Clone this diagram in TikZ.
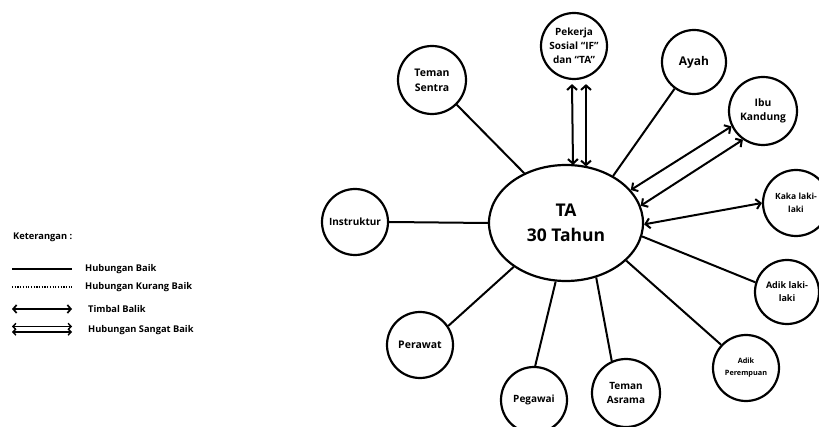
\documentclass[tikz,border=0pt]{standalone}
\usepackage{fontspec}
\setmainfont{Open Sans}
\usetikzlibrary{arrows.meta,calc,shapes.geometric}
\begin{document}
\begin{tikzpicture}[x=1pt,y=-1pt,
  person/.style={circle,draw,line width=2.2pt,minimum size=66pt,inner sep=0pt,align=center,font=\bfseries\fontsize{10}{14}\selectfont},
  link/.style={line width=2pt},
  dbl/.style={line width=2pt,{Straight Barb[length=4.5pt,width=10pt]}-{Straight Barb[length=4.5pt,width=10pt]}},
  legtext/.style={anchor=west,inner sep=0pt,font=\bfseries\fontsize{9.3}{11}\selectfont}]
\useasboundingbox (0,0) rectangle (819,427);
\begin{scope}
\clip (0,0) rectangle (819,427);
\node[ellipse,draw,line width=2.2pt,minimum width=154pt,minimum height=116pt,inner sep=0pt,align=center,font=\bfseries\fontsize{17.5}{25}\selectfont] (ta) at (566,223) {TA\\30 Tahun};
\node[person] (pek) at (574,46) {Pekerja\\Sosial “IF”\\dan “TA”};
\node[person,minimum size=68pt,font=\bfseries\fontsize{10.5}{15}\selectfont] (sentra) at (432,80) {Teman\\Sentra};
\node[person,minimum size=64pt,font=\bfseries\fontsize{12}{14}\selectfont] (ayah) at (694,62) {Ayah};
\node[person,minimum size=68pt,font=\bfseries\fontsize{10.3}{14}\selectfont] (ibu) at (763,111) {Ibu\\Kandung};
\node[person,font=\bfseries\fontsize{8.5}{13}\selectfont] (kaka) at (796,203) {Kaka laki-\\laki};
\node[person,minimum size=64pt,font=\bfseries\fontsize{9}{13}\selectfont] (adik) at (787,292) {Adik laki-\\laki};
\node[person,font=\bfseries\fontsize{7.3}{12}\selectfont] (adikp) at (746,368) {Adik\\Perempuan};
\node[person,minimum size=68pt] (asrama) at (626,393) {Teman\\Asrama};
\node[person] (pegawai) at (534,400) {Pegawai};
\node[person,font=\bfseries\fontsize{10.5}{14}\selectfont] (perawat) at (420,345) {Perawat};
\node[person] (instr) at (355,222) {Instruktur};

\draw[link] (sentra.-45) -- (ta.130);
\draw[link] (ayah.234) -- (ta.45);
\draw[dbl] ($(pek.south)+(-2,4)$) -- ($(ta.north)+(7,1)$);
\draw[dbl] ($(pek.south)+(12,4)$) -- ($(ta.north)+(20,2.5)$);
\draw[dbl] (ibu.206) -- (ta.27);
\draw[dbl] (ibu.235) -- (ta.13);
\draw[dbl] (kaka.180) -- (ta.-1);
\draw[link] (adik.163) -- (ta.-10);
\draw[link] (adikp.137) -- (ta.-32);
\draw[link] (asrama.114) -- (ta.-61);
\draw[link] (pegawai.88) -- (ta.-100);
\draw[link] (perawat.34) -- (ta.-140);
\draw[link] (instr.east) -- (ta.west);
\end{scope}

% legend
\node[legtext] (ket) at (13,237) {Keterangan :};
\coordinate (l1a) at (12,269); \coordinate (l1b) at (72,269);
\coordinate (l2a) at (12,287); \coordinate (l2b) at (72,287);
\coordinate (l3a) at (12,309); \coordinate (l3b) at (72,309);
\coordinate (l4a) at (12,326.5); \coordinate (l4b) at (72,326.5);
\coordinate (l5a) at (12,332); \coordinate (l5b) at (72,332);
\draw[line width=1.6pt] (l1a) -- (l1b);
\draw[line width=1.3pt,dash pattern=on 1.2pt off 1.5pt] (l2a) -- (l2b);
\draw[line width=1.7pt,{Straight Barb[length=3.5pt,width=8pt]}-{Straight Barb[length=3.5pt,width=8pt]}] (l3a) -- (l3b);
\draw[line width=1.4pt,{Straight Barb[length=3pt,width=6.5pt]}-{Straight Barb[length=3pt,width=6.5pt]}] (l4a) -- (l4b);
\draw[line width=1.4pt,{Straight Barb[length=3pt,width=6.5pt]}-{Straight Barb[length=3pt,width=6.5pt]}] (l5a) -- (l5b);
\node[legtext] (t1) at (85,269) {Hubungan Baik};
\node[legtext] (t2) at (85,287) {Hubungan Kurang Baik};
\node[legtext] (t3) at (88,309) {Timbal Balik};
\node[legtext] (t4) at (88,330) {Hubungan Sangat Baik};
\end{tikzpicture}
\end{document}
